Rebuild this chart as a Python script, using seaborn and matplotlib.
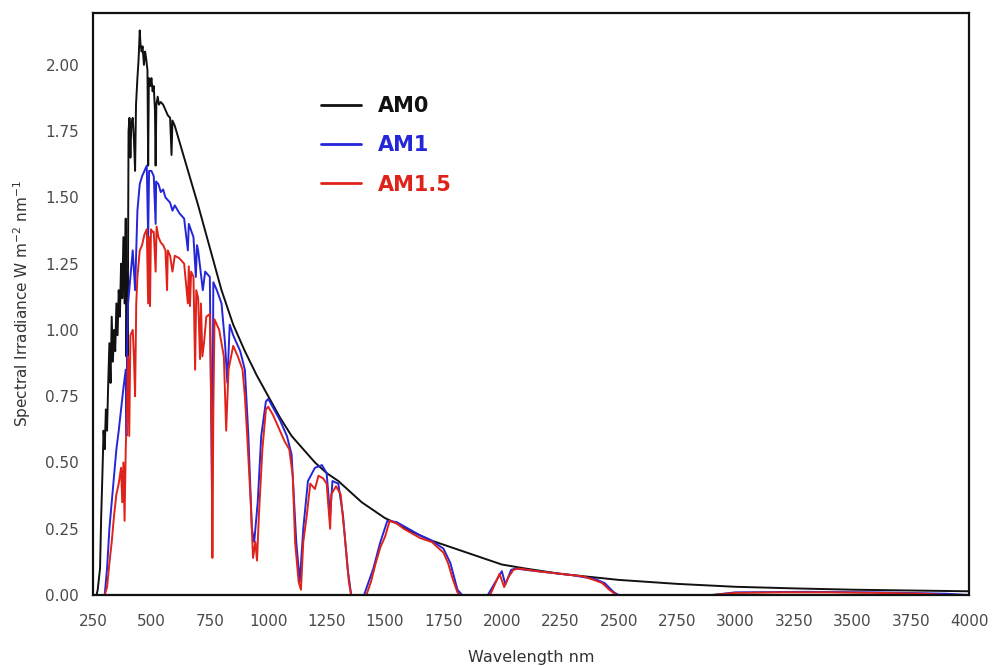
import numpy as np
import pandas as pd
import seaborn as sns
import matplotlib
matplotlib.use("Agg")
import matplotlib.pyplot as plt

# ---------------- data ----------------
am0_wl = [265, 270, 280, 285, 290, 295, 300, 305, 310, 315, 320, 325, 330, 335, 340, 345, 350, 355,
          360, 365, 370, 375, 380, 385, 390, 393, 396, 398, 402, 406, 410, 414, 420, 425, 430, 434,
          440, 445, 450, 453, 458, 462, 468, 473, 478, 483, 486, 489, 495, 500, 505, 510, 515, 518,
          521, 527, 532, 540, 550, 560, 570, 580, 586, 590, 600, 650, 700, 750, 800, 850, 900, 950,
          1000, 1050, 1100, 1150, 1200, 1250, 1300, 1350, 1400, 1450, 1500, 1550, 1600, 1650, 1700,
          1750, 1800, 1900, 2000, 2100, 2250, 2500, 2750, 3000, 3250, 3500, 3750, 4000]
am0_val = [0.0, 0.02, 0.10, 0.30, 0.45, 0.62, 0.55, 0.70, 0.62, 0.80, 0.95, 0.80, 1.05, 0.88, 1.00,
           0.92, 1.10, 0.98, 1.15, 1.05, 1.25, 1.12, 1.35, 1.10, 1.42, 0.90, 1.20, 0.85, 1.75, 1.80,
           1.65, 1.78, 1.80, 1.72, 1.60, 1.85, 1.95, 2.02, 2.13, 2.08, 2.05, 2.07, 2.00, 2.05, 2.02,
           1.98, 1.62, 1.95, 1.92, 1.95, 1.90, 1.92, 1.83, 1.62, 1.85, 1.88, 1.85, 1.86, 1.85, 1.83,
           1.81, 1.80, 1.66, 1.79, 1.77, 1.62, 1.47, 1.31, 1.15, 1.02, 0.92, 0.83, 0.75, 0.67, 0.60,
           0.55, 0.50, 0.46, 0.43, 0.39, 0.35, 0.32, 0.29, 0.27, 0.245, 0.225, 0.205, 0.19, 0.175,
           0.145, 0.115, 0.10, 0.08, 0.057, 0.042, 0.031, 0.025, 0.020, 0.017, 0.014]

am1_wl = [300, 310, 320, 330, 340, 350, 360, 370, 380, 390, 393, 396, 400, 410, 420, 430, 440, 450,
          460, 470, 480, 486, 490, 500, 510, 518, 520, 530, 540, 550, 560, 570, 580, 590, 600, 620,
          640, 656, 660, 680, 690, 695, 700, 720, 730, 750, 760, 765, 780, 800, 815, 825, 835, 850,
          880, 900, 915, 930, 940, 955, 970, 990, 1000, 1050, 1080, 1100, 1120, 1135, 1150, 1170,
          1200, 1230, 1250, 1265, 1275, 1300, 1320, 1340, 1355, 1410, 1450, 1480, 1510, 1550, 1600,
          1650, 1700, 1750, 1780, 1810, 1830, 1940, 1980, 2000, 2015, 2040, 2060, 2100, 2200, 2300,
          2400, 2440, 2480, 2500, 2900, 3000, 3300, 3600, 3900, 4000]
am1_val = [0.0, 0.10, 0.25, 0.35, 0.45, 0.55, 0.62, 0.70, 0.78, 0.85, 0.60, 0.95, 1.10, 1.20, 1.30,
           1.15, 1.45, 1.55, 1.58, 1.60, 1.62, 1.35, 1.60, 1.60, 1.58, 1.40, 1.56, 1.55, 1.52, 1.53,
           1.50, 1.49, 1.48, 1.45, 1.47, 1.44, 1.42, 1.30, 1.40, 1.35, 1.20, 1.32, 1.30, 1.15, 1.22,
           1.20, 0.30, 1.18, 1.15, 1.10, 0.95, 0.80, 1.02, 0.98, 0.92, 0.85, 0.60, 0.25, 0.20, 0.35,
           0.60, 0.73, 0.74, 0.66, 0.60, 0.53, 0.20, 0.05, 0.25, 0.43, 0.48, 0.49, 0.46, 0.30, 0.43,
           0.42, 0.30, 0.10, 0.0, 0.0, 0.10, 0.20, 0.28, 0.275, 0.25, 0.225, 0.205, 0.175, 0.12, 0.02,
           0.0, 0.0, 0.06, 0.09, 0.04, 0.095, 0.10, 0.095, 0.085, 0.075, 0.06, 0.045, 0.01, 0.0, 0.0,
           0.01, 0.012, 0.01, 0.005, 0.0]

am15_wl = [300, 310, 320, 330, 340, 350, 360, 370, 375, 380, 385, 390, 395, 400, 405, 410, 420, 425,
           430, 435, 440, 450, 460, 470, 480, 486, 490, 494, 498, 505, 510, 518, 522, 530, 540, 550,
           560, 567, 570, 580, 590, 600, 620, 640, 656, 660, 665, 670, 680, 687, 692, 700, 708, 712,
           718, 725, 735, 750, 758, 761, 765, 770, 790, 810, 820, 830, 850, 870, 890, 900, 910, 925,
           935, 945, 952, 960, 975, 990, 1000, 1020, 1050, 1070, 1090, 1105, 1115, 1130, 1140, 1150,
           1165, 1180, 1200, 1215, 1235, 1250, 1265, 1270, 1290, 1310, 1330, 1345, 1355, 1420, 1440,
           1460, 1480, 1500, 1520, 1550, 1580, 1600, 1650, 1700, 1750, 1770, 1790, 1810, 1820, 1950,
           1970, 1990, 2010, 2030, 2050, 2070, 2150, 2250, 2350, 2400, 2430, 2460, 2490, 2900, 3000,
           3200, 3400, 3600, 3800, 3900, 4000]
am15_val = [0.0, 0.03, 0.12, 0.20, 0.30, 0.38, 0.42, 0.48, 0.35, 0.50, 0.28, 0.55, 0.70, 0.90, 0.60,
            0.98, 1.00, 0.90, 0.75, 1.10, 1.20, 1.30, 1.32, 1.36, 1.38, 1.10, 1.35, 1.09, 1.38, 1.37,
            1.37, 1.22, 1.39, 1.35, 1.33, 1.32, 1.30, 1.15, 1.30, 1.28, 1.22, 1.28, 1.27, 1.25, 1.10,
            1.24, 1.09, 1.22, 1.20, 0.85, 1.15, 1.12, 0.89, 1.10, 0.90, 0.95, 1.05, 1.06, 0.60, 0.14,
            0.70, 1.04, 1.00, 0.90, 0.62, 0.85, 0.94, 0.90, 0.85, 0.75, 0.60, 0.35, 0.14, 0.20, 0.13,
            0.30, 0.55, 0.70, 0.71, 0.68, 0.62, 0.58, 0.55, 0.45, 0.20, 0.05, 0.02, 0.20, 0.30, 0.42,
            0.40, 0.45, 0.44, 0.42, 0.25, 0.38, 0.41, 0.38, 0.20, 0.05, 0.0, 0.0, 0.05, 0.12, 0.18,
            0.22, 0.28, 0.27, 0.25, 0.24, 0.215, 0.20, 0.16, 0.12, 0.06, 0.01, 0.0, 0.0, 0.04, 0.08,
            0.03, 0.07, 0.095, 0.10, 0.09, 0.08, 0.07, 0.055, 0.045, 0.02, 0.0, 0.0, 0.008, 0.01,
            0.01, 0.008, 0.005, 0.0, 0.0]

series_names = ["AM0", "AM1", "AM1.5"]
series_colors = ["#111111", "#2626d9", "#e0231a"]
x_ticks = [250, 500, 750, 1000, 1250, 1500, 1750, 2000, 2250, 2500, 2750, 3000, 3250, 3500, 3750, 4000]
y_ticks = [0.00, 0.25, 0.50, 0.75, 1.00, 1.25, 1.50, 1.75, 2.00]

df = pd.concat([
    pd.DataFrame({"wl": am0_wl, "val": am0_val, "series": "AM0"}),
    pd.DataFrame({"wl": am1_wl, "val": am1_val, "series": "AM1"}),
    pd.DataFrame({"wl": am15_wl, "val": am15_val, "series": "AM1.5"}),
], ignore_index=True)

# ---------------- plot ----------------
sns.set_theme(style="white")
plt.rcParams["font.family"] = ["DejaVu Sans"]

fig = plt.figure(figsize=(9.95, 6.66), dpi=100)
ax = fig.add_axes([0.0935, 0.1066, 0.8804, 0.874])

sns.lineplot(data=df, x="wl", y="val", hue="series", hue_order=series_names,
             palette=dict(zip(series_names, series_colors)), estimator=None, sort=False,
             linewidth=1.4, ax=ax)

ax.set_xlim(250, 4000)
ax.set_ylim(0, 2.196)
ax.set_xticks(x_ticks)
ax.set_xticklabels([str(t) for t in x_ticks])
ax.set_yticks(y_ticks)
ax.set_yticklabels([f"{t:.2f}" for t in y_ticks])
ax.tick_params(axis="both", length=0, labelsize=11, labelcolor="#4a4a4a")
ax.tick_params(axis="y", pad=10)
ax.tick_params(axis="x", pad=14)
for s in ax.spines.values():
    s.set_visible(True)
    s.set_color("#111111")
    s.set_linewidth(1.6)

ax.set_xlabel("Wavelength nm", fontsize=11.5, color="#333333", labelpad=15)
ax.set_ylabel("Spectral Irradiance W m$^{-2}$ nm$^{-1}$", fontsize=11, color="#333333", labelpad=9)

handles, labels = ax.get_legend_handles_labels()
leg = ax.legend(handles, labels, loc="upper left", bbox_to_anchor=(0.239, 0.889), frameon=False,
                prop={"family": "DejaVu Sans", "weight": "bold", "size": 15},
                handlelength=1.92, handletextpad=0.82, labelspacing=0.92)
for txt, c in zip(leg.get_texts(), series_colors):
    txt.set_color(c)
for ln in leg.get_lines():
    ln.set_linewidth(2.0)

fig.savefig("out.png", dpi=100)
